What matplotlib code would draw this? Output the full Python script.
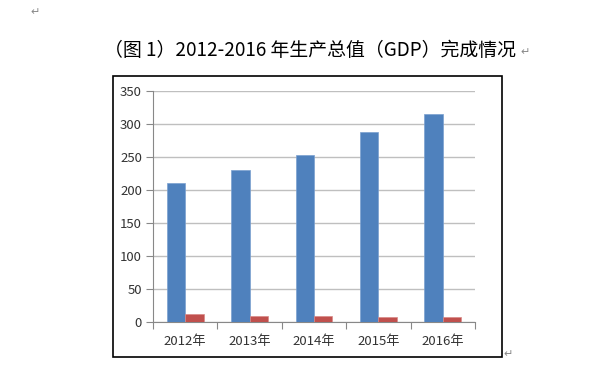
import matplotlib
matplotlib.use("Agg")
import matplotlib.pyplot as plt
from matplotlib.patches import Rectangle
import numpy as np

plt.rcParams['font.family'] = ['Noto Sans CJK SC', 'DejaVu Sans']

years = ["2012年", "2013年", "2014年", "2015年", "2016年"]
gdp = [210, 230, 253, 288, 315]
growth = [11.8, 9.2, 9.1, 7.8, 7.6]
yticks = [0, 50, 100, 150, 200, 250, 300, 350]
title = "（图 1）2012-2016 年生产总值（GDP）完成情况"

fig = plt.figure(figsize=(5.94, 3.71), dpi=100)
ax = fig.add_axes([153/594, 1-322/371, (475-153)/594, (322-91)/371])

x = np.arange(len(years))
w = 0.286
ax.bar(x - w/2, gdp, width=w, color="#4f81bd", edgecolor="#7aa0d0", linewidth=0.5, zorder=3)
ax.bar(x + w/2, growth, width=w, color="#c0504d", edgecolor="#d88a88", linewidth=0.5, zorder=3)

ax.set_xlim(-0.5, len(years) - 0.5)
ax.set_ylim(0, 350)
ax.set_yticks(yticks)
ax.yaxis.grid(True, color="#bfbfbf", linewidth=1.0, zorder=0)
ax.set_axisbelow(True)

ax.set_xticks(x)
ax.set_xticklabels(years)
ax.set_xticks(np.arange(-0.5, len(years)), minor=True)
ax.tick_params(axis='x', which='major', length=0, pad=9, labelsize=9.5, labelcolor="#333333")
ax.tick_params(axis='x', which='minor', length=5, color="#888888", width=0.8)
ax.tick_params(axis='y', length=5, color="#888888", width=0.8, labelsize=9.5, labelcolor="#333333", pad=3)

for s in ['top', 'right']:
    ax.spines[s].set_visible(False)
for s in ['left', 'bottom']:
    ax.spines[s].set_color("#888888")
    ax.spines[s].set_linewidth(0.8)

# chart frame
fig.patches.append(Rectangle((112.5/594, 1-357/371), (501.5-112.5)/594, (357-75.5)/371,
                             transform=fig.transFigure, fill=False, edgecolor="black",
                             linewidth=1.2))

fig.text(310/594, 1-50/371, title, ha='center', va='center', fontsize=13.6,
         fontweight='medium', color="black")
fig.text(520/594, 1-52/371, "↵", ha='left', va='center', fontsize=8, color="#888888",
         family=['DejaVu Sans'])
fig.text(30/594, 1-12/371, "↵", ha='left', va='center', fontsize=8, color="#888888",
         family=['DejaVu Sans'])
fig.text(503/594, 1-354/371, "↵", ha='left', va='center', fontsize=8, color="#888888",
         family=['DejaVu Sans'])

fig.savefig("out.png", dpi=100)
